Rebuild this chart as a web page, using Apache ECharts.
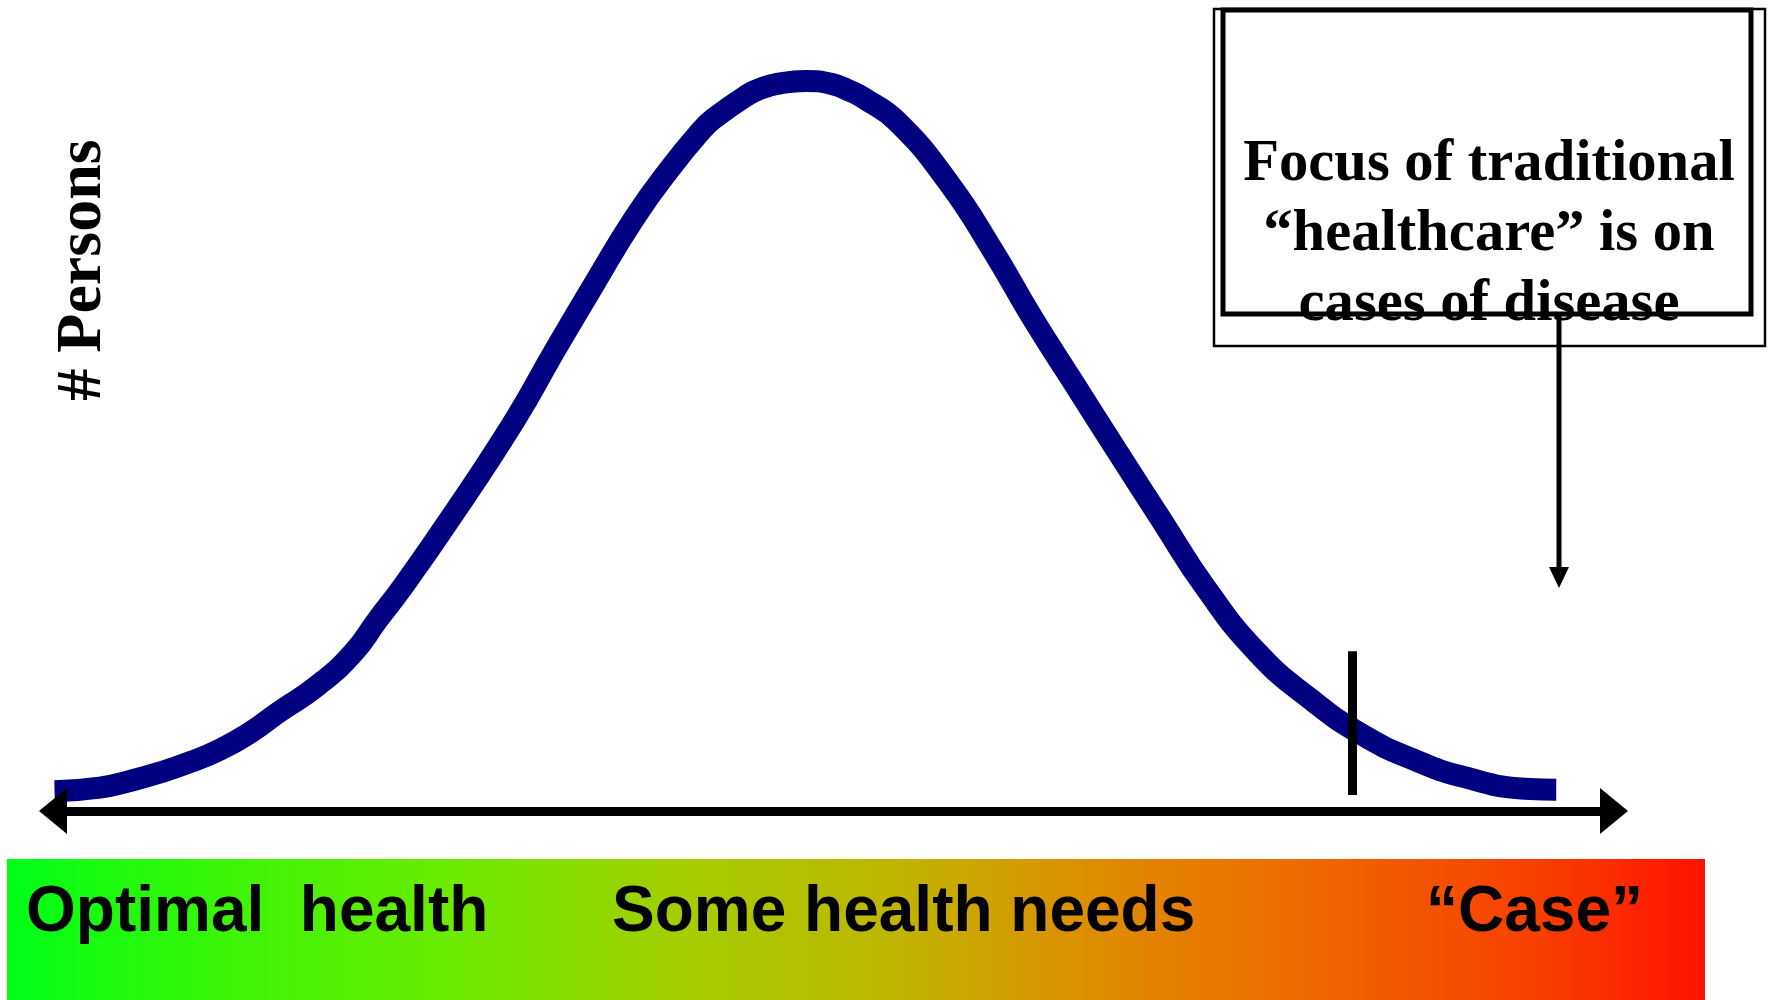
<!DOCTYPE html>
<html>
<head>
<meta charset="utf-8">
<title>Population health distribution</title>
<script src="https://cdn.jsdelivr.net/npm/echarts@6/dist/echarts.min.js"></script>
<style>
  html, body { margin: 0; padding: 0; background: #fff; }
  #chart { width: 1773px; height: 1000px; }
</style>
</head>
<body>
<div id="chart"></div>
<script>
// position along the health continuum (0 = optimal, 100 = case)
const healthPos = [0.1, 3.0, 4.9, 6.9, 8.8, 10.7, 12.6, 14.5, 16.9, 19.2, 20.8, 22.4, 25.4, 29.6,
  32.1, 34.7, 37.3, 39.6, 41.4, 42.3, 44.5, 45.4, 46.4, 48.2, 49.9, 51.1, 51.9, 54.1, 57.4,
  60.2, 62.7, 65.4, 68.2, 71.0, 73.8, 77.2, 80.7, 83.9, 87.1, 90.3, 94.6, 96.3];
// number of persons (relative, peak = 100)
const persons = [2.7, 3.2, 4.1, 5.3, 6.7, 8.4, 10.7, 13.6, 17.1, 21.6, 26.2, 30.7, 39.9, 53.6,
  62.9, 72.3, 81.4, 88.2, 92.9, 94.8, 98.1, 99.0, 99.6, 100, 99.6, 98.6, 97.7, 94.4, 86.0,
  76.8, 67.7, 58.6, 49.2, 39.9, 30.7, 21.6, 15.1, 10.4, 7.1, 4.7, 3.0, 2.9];

// cut-off where a person becomes a "case"
const caseCutX = 83.2;
const caseCutSpan = [2.2, 21.9];

const yTitle = '# Persons';
const bandLabels = ['Optimal  health', 'Some health needs', '\u201cCase\u201d'];
const focusNote = ['Focus of traditional', '\u201chealthcare\u201d is on', 'cases of disease'];

const chart = echarts.init(document.getElementById('chart'), null, { renderer: 'canvas' });

const serif = '"Liberation Serif", "Times New Roman", serif';
const sans = '"Liberation Sans", Arial, sans-serif';

const option = {
  animation: false,
  backgroundColor: '#ffffff',
  grid: { left: 53, right: 159, top: 81, bottom: 189 },
  xAxis: {
    type: 'value',
    min: 0,
    max: 100,
    z: 5,
    axisLine: {
      show: true,
      symbol: ['triangle', 'triangle'],
      symbolSize: [46, 28],
      lineStyle: { color: '#000', width: 9 }
    },
    axisTick: { show: false },
    axisLabel: { show: false },
    splitLine: { show: false }
  },
  yAxis: {
    type: 'value',
    min: 0,
    max: 100,
    show: false
  },
  series: [{
    type: 'line',
    data: healthPos.map((x, i) => [x, persons[i]]),
    smooth: true,
    showSymbol: false,
    clip: false,
    silent: true,
    lineStyle: { color: '#000080', width: 22, cap: 'butt' },
    markLine: {
      silent: true,
      symbol: ['none', 'none'],
      label: { show: false },
      lineStyle: { color: '#000', width: 9, type: 'solid' },
      data: [[
        { coord: [caseCutX, caseCutSpan[0]] },
        { coord: [caseCutX, caseCutSpan[1]] }
      ]]
    }
  }],
  graphic: [
    // y title
    {
      type: 'text',
      x: 83,
      y: 270,
      rotation: Math.PI / 2,
      style: {
        text: yTitle,
        font: 'bold 64px ' + serif,
        fill: '#000',
        align: 'center',
        verticalAlign: 'middle'
      }
    },
    // colour band
    {
      type: 'rect',
      shape: { x: 7, y: 859, width: 1698, height: 141 },
      style: {
        fill: new echarts.graphic.LinearGradient(0, 0, 1, 0, [
          { offset: 0, color: '#00ff18' },
          { offset: 0.13, color: '#3cf505' },
          { offset: 0.26, color: '#6aeb00' },
          { offset: 0.4, color: '#a5cd00' },
          { offset: 0.52, color: '#beb600' },
          { offset: 0.63, color: '#dc9000' },
          { offset: 0.76, color: '#ee6a00' },
          { offset: 0.9, color: '#f84000' },
          { offset: 1, color: '#ff1200' }
        ])
      }
    },
    {
      type: 'text', x: 26, y: 913,
      style: { text: bandLabels[0], font: 'bold 64px ' + sans, fill: '#000', align: 'left', verticalAlign: 'middle' }
    },
    {
      type: 'text', x: 612, y: 913,
      style: { text: bandLabels[1], font: 'bold 64px ' + sans, fill: '#000', align: 'left', verticalAlign: 'middle' }
    },
    {
      type: 'text', x: 1426, y: 913,
      style: { text: bandLabels[2], font: 'bold 64px ' + sans, fill: '#000', align: 'left', verticalAlign: 'middle' }
    },
    // note box
    {
      type: 'rect',
      shape: { x: 1214, y: 9, width: 551, height: 337 },
      style: { fill: 'none', stroke: '#000', lineWidth: 2.5 }
    },
    {
      type: 'rect',
      shape: { x: 1223, y: 10, width: 528, height: 304 },
      style: { fill: 'none', stroke: '#000', lineWidth: 5 }
    },
    {
      type: 'text',
      x: 1489,
      y: 235,
      z: 10,
      style: {
        text: focusNote.join('\n'),
        font: 'bold 58.6px ' + serif,
        lineHeight: 70,
        fill: '#000',
        align: 'center',
        verticalAlign: 'middle'
      }
    },
    // pointer from the box
    {
      type: 'line',
      shape: { x1: 1559, y1: 316, x2: 1559, y2: 572 },
      style: { stroke: '#000', lineWidth: 5 }
    },
    {
      type: 'polygon',
      shape: { points: [[1549, 567], [1569, 567], [1559, 588]] },
      style: { fill: '#000' }
    }
  ]
};

chart.setOption(option);
</script>
</body>
</html>
